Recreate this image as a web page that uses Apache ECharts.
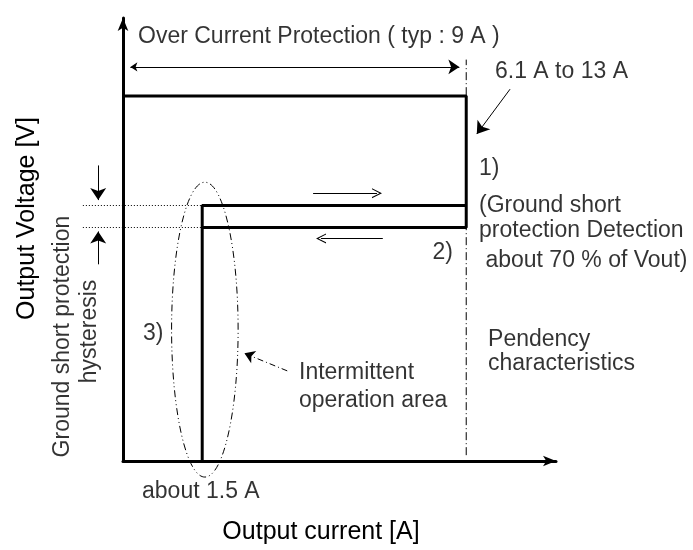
<!DOCTYPE html>
<html>
<head>
<meta charset="utf-8">
<title>Over current protection characteristic</title>
<script src="https://cdn.jsdelivr.net/npm/echarts@6/dist/echarts.min.js"></script>
<style>
  html, body { margin: 0; padding: 0; background: #fff; }
  #chart { width: 693px; height: 550px; }
</style>
</head>
<body>
<div id="chart"></div>
<script>
// schematic units: x = output current [A], y = output voltage [% of Vout]
const cutoffCurrent = 1.5;
const limitCurrent = 6.5;
const ratedLevel = 100;
const hysteresisLevels = [70, 64];      // detection / release
const pendencyRange = [1.6, 110];
const axisMax = [8.2, 121.4];

const limitCurve = [[0, ratedLevel], [limitCurrent, ratedLevel], [limitCurrent, hysteresisLevels[1]], [cutoffCurrent, hysteresisLevels[1]]];
const detectCurve = [[cutoffCurrent, 0], [cutoffCurrent, hysteresisLevels[0]], [limitCurrent, hysteresisLevels[0]]];

// ellipse round the intermittent area: cx, cy, rx, ry
const intermittentArea = [1.55, 36, 0.63, 40.4];

// text notes: [x, y, text, align, rotate]
const notes = [
  [0.284, 116.3, 'Over Current Protection ( typ : 9 A )', 'left', 0],
  [7.045, 106.8, '6.1 A to 13 A', 'left', 0],
  [6.742, 80.2, '1)', 'left', 0],
  [6.742, 69.9, '(Ground short', 'left', 0],
  [6.742, 63.1, 'protection Detection', 'left', 0],
  [6.742, 55.0, ' about 70 % of Vout)', 'left', 0],
  [6.25, 57.2, '2)', 'right', 0],
  [0.379, 35.0, '3)', 'left', 0],
  [3.333, 24.1, 'Intermittent', 'left', 0],
  [3.333, 16.5, 'operation area', 'left', 0],
  [6.913, 33.3, 'Pendency', 'left', 0],
  [6.913, 26.6, 'characteristics', 'left', 0],
  [0.36, -8.4, 'about 1.5 A', 'left', 0],
  [-1.136, 34.1, 'Ground short protection', 'center', 90],
  [-0.625, 35.5, 'hysteresis', 'center', 90]
];

const fontFamily = '"Liberation Sans", Arial, sans-serif';
const openArrow = 'path://M0,10 L5,0 L10,10 L8.8,10 L5,2.4 L1.2,10 Z';

function arrowLines(coordsList, symbol, size, lineType) {
  return {
    type: 'lines',
    coordinateSystem: 'cartesian2d',
    clip: false,
    silent: true,
    symbol: symbol,
    symbolSize: size,
    lineStyle: { color: '#000', width: 1, opacity: 1, type: lineType || 'solid' },
    data: coordsList.map(c => ({ coords: c }))
  };
}

const chart = echarts.init(document.getElementById('chart'));

const option = {
  animation: false,
  backgroundColor: '#fff',
  grid: { left: 123, top: 18, width: 433, height: 448 },
  xAxis: {
    type: 'value', min: 0, max: axisMax[0],
    name: 'Output current [A]',
    nameLocation: 'middle', nameGap: 59,
    nameTextStyle: { color: '#000', fontSize: 25, fontFamily: fontFamily, padding: [0, 37, 0, 0] },
    axisLine: { show: true, symbol: ['none', 'arrow'], symbolSize: [8, 13], lineStyle: { color: '#000', width: 3 } },
    axisTick: { show: false }, axisLabel: { show: false }, splitLine: { show: false }
  },
  yAxis: {
    type: 'value', min: 0, max: axisMax[1],
    name: 'Output Voltage [V]',
    nameLocation: 'middle', nameGap: 83, nameRotate: 90,
    nameTextStyle: { color: '#000', fontSize: 25, fontFamily: fontFamily, padding: [0, 0, 0, 42] },
    axisLine: { show: true, symbol: ['none', 'arrow'], symbolSize: [8, 13], lineStyle: { color: '#000', width: 3 } },
    axisTick: { show: false }, axisLabel: { show: false }, splitLine: { show: false }
  },
  series: [
    {
      type: 'line', data: limitCurve, symbol: 'none', silent: true,
      lineStyle: { color: '#000', width: 3 }
    },
    {
      type: 'line', data: detectCurve, symbol: 'none', silent: true,
      lineStyle: { color: '#000', width: 3 }
    },
    {
      type: 'line', data: [[limitCurrent, pendencyRange[0]], [limitCurrent, pendencyRange[1]]],
      symbol: 'none', silent: true,
      lineStyle: { color: '#000', width: 1, type: [8, 3, 1, 3] }
    },
    // dotted guides of the hysteresis band
    arrowLines(hysteresisLevels.map(v => [[-0.76, v], [cutoffCurrent, v]]), 'none', 0, [1, 2]),
    // OCP span
    arrowLines([[[0.14, 108], [6.37, 108]]], ['arrow', 'arrow'], [7, 11]),
    // pointer from "6.1 A to 13 A"
    arrowLines([[[7.33, 101.9], [6.70, 89.6]]], ['none', 'arrow'], [7, 12]),
    // hysteresis width arrows
    arrowLines([[[-0.47, 81], [-0.47, 71.5]], [[-0.47, 53.9], [-0.47, 62.9]]], ['none', 'arrow'], [7.5, 12]),
    // direction arrows
    arrowLines([[[3.6, 73.4], [4.81, 73.4]], [[4.92, 61], [3.75, 61]]], ['none', openArrow], [9, 10]),
    // pointer from intermittent note
    arrowLines([[[3.11, 24.7], [2.30, 29.5]]], ['none', 'arrow'], [6, 10], [6, 3, 1, 3]),
    {
      type: 'custom',
      silent: true,
      data: [intermittentArea],
      renderItem: function (params, api) {
        const c = api.coord([api.value(0), api.value(1)]);
        const s = api.size([api.value(2), api.value(3)]);
        return {
          type: 'ellipse',
          shape: { cx: c[0], cy: c[1], rx: s[0], ry: s[1] },
          style: { fill: 'none', stroke: '#000', lineWidth: 1, lineDash: [7, 3, 1, 3, 1, 3] }
        };
      }
    },
    {
      type: 'scatter',
      silent: true,
      clip: false,
      symbolSize: 0,
      data: notes.map(n => ({
        value: [n[0], n[1]],
        label: {
          show: true, position: [0, 0], formatter: n[2],
          align: n[3], verticalAlign: 'middle', rotate: n[4],
          color: '#000', fontSize: 23, fontFamily: fontFamily
        }
      }))
    }
  ]
};

chart.setOption(option);
</script>
</body>
</html>
